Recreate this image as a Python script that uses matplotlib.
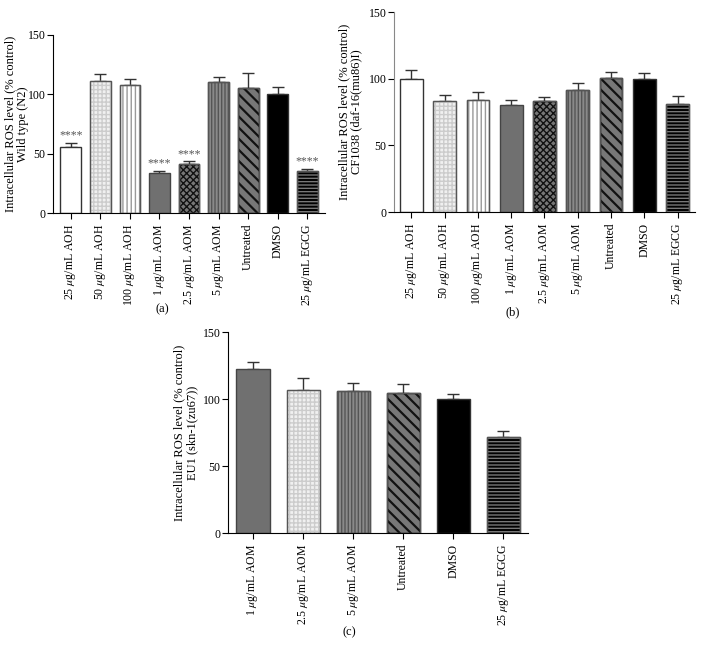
import numpy as np
import matplotlib
matplotlib.use('Agg')
import matplotlib.pyplot as plt

plt.rcParams['font.family'] = ['Liberation Serif', 'DejaVu Serif']
plt.rcParams['mathtext.fontset'] = 'stix'
plt.rcParams['hatch.linewidth'] = 1.0

# data
labels_a = [r'25 $\mu$g/mL AOH', r'50 $\mu$g/mL AOH', r'100 $\mu$g/mL AOH',
            r'1 $\mu$g/mL AOM', r'2.5 $\mu$g/mL AOM', r'5 $\mu$g/mL AOM',
            'Untreated', 'DMSO', r'25 $\mu$g/mL EGCG']
means_a = [56, 111.5, 107.5, 33.5, 41, 110, 105.5, 100, 35]
errs_a = [3, 5.5, 5, 2.3, 2.5, 4.5, 12.5, 6, 2.5]
stars_a = ['****', '', '', '****', '****', '', '', '', '****']

labels_b = labels_a
means_b = [100, 83.3, 84.3, 80, 83, 91.8, 100.2, 99.8, 81]
errs_b = [6.7, 4.7, 6, 4, 3.3, 5.2, 4.8, 4.7, 5.8]

labels_c = [r'1 $\mu$g/mL AOM', r'2.5 $\mu$g/mL AOM', r'5 $\mu$g/mL AOM',
            'Untreated', 'DMSO', r'25 $\mu$g/mL EGCG']
means_c = [122.3, 106.5, 105.8, 104.5, 100, 72]
errs_c = [5, 9, 6.2, 6.5, 3.8, 4.4]

# fill styles: (face, hatch, hatch colour)
WHITE = ('white', None, '#333333')
DOTS = ('#f0f0f0', '++++', '#cccccc')
VLINES = ('white', '||||', '#999999')
GRAY = ('#707070', None, '#444444')
CHECK = ('#777777', 'xxxxx', '#111111')
GVLINES = ('#8a8a8a', '|||||', '#555555')
DIAG = ('#777777', '\\\\\\', '#111111')
BLACK = ('black', None, '#333333')
HLINES = ('black', '-----', '#777777')

styles_ab = [WHITE, DOTS, VLINES, GRAY, CHECK, GVLINES, DIAG, BLACK, HLINES]
styles_c = [GRAY, DOTS, GVLINES, DIAG, BLACK, HLINES]


def panel(rect, labels, means, errs, styles, ylab, ylab_x, width, xpad, stars=None):
    ax = fig.add_axes(rect)
    x = np.arange(len(labels))
    for i in range(len(labels)):
        fc, h, ec = styles[i]
        lw = 1.6 if h and '\\' in h else 1.0
        plt.rcParams['hatch.linewidth'] = lw
        ax.bar(x[i], means[i], width=width, color=fc, hatch=h,
               edgecolor=ec, linewidth=1.0, zorder=2)
        if h:
            # redraw the outline so the edge is not only the hatch colour
            ax.bar(x[i], means[i], width=width, fill=False,
                   edgecolor='#555555', linewidth=1.0, zorder=3)
    plt.rcParams['hatch.linewidth'] = 1.0
    ax.errorbar(x, means, yerr=[np.zeros(len(errs)), errs], fmt='none',
                ecolor='#333333', elinewidth=1.0, capsize=4, capthick=1.0,
                zorder=1)
    if stars:
        for i, s in enumerate(stars):
            if s:
                ax.text(x[i], means[i] + errs[i] + 1, s, ha='center',
                        va='bottom', fontsize=8.5, color='#555555')
    ax.set_xlim(-xpad, len(labels) - 1 + xpad)
    ax.set_ylim(0, 150)
    ax.set_yticks([0, 50, 100, 150])
    ax.set_xticks(x)
    ax.set_xticklabels(labels, rotation=90, fontsize=8.5)
    ax.tick_params(axis='y', labelsize=8.5, length=4, direction='out', pad=1.5)
    ax.tick_params(axis='x', length=4, direction='out')
    ax.spines['top'].set_visible(False)
    ax.spines['right'].set_visible(False)
    ax.set_ylabel(ylab, fontsize=9, linespacing=1.05)
    ax.yaxis.set_label_coords(ylab_x, 0.5)
    return ax


fig = plt.figure(figsize=(7.03, 6.54), dpi=100)

panel([0.0754, 0.6743, 0.387, 0.2722], labels_a, means_a, errs_a, styles_ab,
      'Intracellular ROS level (% control)\nWild type (N2)', -0.088, 0.7, 0.6, stars_a)
axb = panel([0.5605, 0.6758, 0.428, 0.3058], labels_b, means_b, errs_b, styles_ab,
            'Intracellular ROS level (% control)\nCF1038 (daf-16(mu86)I)', -0.105, 0.68, 0.52)
axb.spines['left'].set_color('#888888')
panel([0.3243, 0.185, 0.427, 0.3073], labels_c, means_c, errs_c, styles_c,
      'Intracellular ROS level (% control)\nEU1 (skn-1(zu67))', -0.1, 0.66, 0.5)

fig.text(162 / 703, 1 - 309 / 654, '(a)', ha='center', va='center', fontsize=9)
fig.text(513 / 703, 1 - 312 / 654, '(b)', ha='center', va='center', fontsize=9)
fig.text(349 / 703, 1 - 632 / 654, '(c)', ha='center', va='center', fontsize=9)

plt.savefig('out.png', dpi=100)
